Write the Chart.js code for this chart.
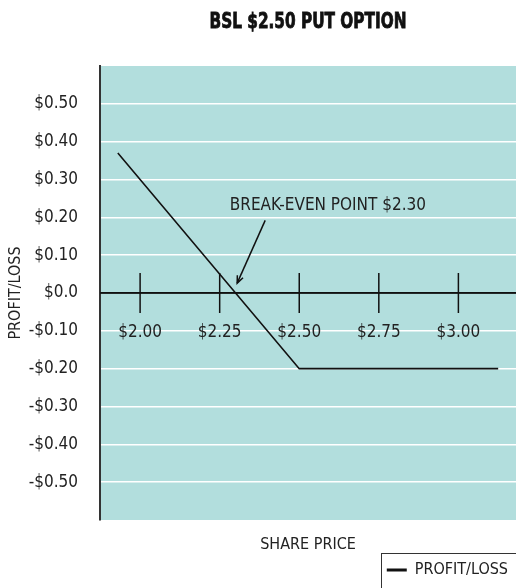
<!DOCTYPE html>
<html>
<head>
<meta charset="utf-8">
<script src="https://cdn.jsdelivr.net/npm/chart.js@4/dist/chart.umd.min.js"></script>
<style>
    body { margin: 0; background: #fff; }
    #wrap { width: 516px; height: 588px; position: relative; }
</style>
</head>
<body>
<div id="wrap"><canvas id="chart"></canvas></div>
<script>
// chart data
const sharePrice = [1.93, 2.50, 3.125];
const profitLoss = [0.37, -0.20, -0.20];
const xTicks = [2.00, 2.25, 2.50, 2.75, 3.00];
const xTickLabels = ['$2.00', '$2.25', '$2.50', '$2.75', '$3.00'];
const yTicks = [0.5, 0.4, 0.3, 0.2, 0.1, 0, -0.1, -0.2, -0.3, -0.4, -0.5];
const yTickLabels = ['$0.50', '$0.40', '$0.30', '$0.20', '$0.10', '$0.0', '-$0.10', '-$0.20', '-$0.30', '-$0.40', '-$0.50'];
const breakEvenText = 'BREAK-EVEN POINT $2.30';
const breakEvenLabelAt = [2.59, 0.232];
const breakEvenArrowFrom = [2.393, 0.192];
const breakEvenArrowTo = [2.305, 0.026];

const FONT = "'DejaVu Sans Condensed', 'DejaVu Sans', sans-serif";
const TEAL = '#b2dedd';

// teal background, zero line, tick marks, labels, title, annotation, legend box
const decorPlugin = {
    id: 'decor',
    beforeDraw(chart) {
        const a = chart.chartArea;
        const ctx = chart.ctx;
        ctx.save();
        ctx.fillStyle = TEAL;
        ctx.fillRect(a.left, a.top, a.right - a.left, a.bottom - a.top);
        ctx.restore();
    },
    afterDatasetsDraw(chart) {
        const ctx = chart.ctx;
        const a = chart.chartArea;
        const xs = chart.scales.x;
        const ys = chart.scales.y;
        const y0 = ys.getPixelForValue(0);
        ctx.save();
        ctx.strokeStyle = '#111';
        ctx.lineWidth = 1.5;
        ctx.beginPath();
        ctx.moveTo(a.left, y0);
        ctx.lineTo(a.right, y0);
        ctx.stroke();
        ctx.font = '17px ' + FONT;
        ctx.fillStyle = '#222';
        ctx.textAlign = 'center';
        ctx.textBaseline = 'middle';
        xTicks.forEach((v, i) => {
            const px = xs.getPixelForValue(v);
            ctx.beginPath();
            ctx.moveTo(px, y0 - 20);
            ctx.lineTo(px, y0 + 20);
            ctx.stroke();
            ctx.fillText(xTickLabels[i], px, y0 + 40);
        });

        // break-even note
        ctx.fillText(breakEvenText, xs.getPixelForValue(breakEvenLabelAt[0]), ys.getPixelForValue(breakEvenLabelAt[1]));
        const x1 = xs.getPixelForValue(breakEvenArrowFrom[0]), y1 = ys.getPixelForValue(breakEvenArrowFrom[1]);
        const x2 = xs.getPixelForValue(breakEvenArrowTo[0]), y2 = ys.getPixelForValue(breakEvenArrowTo[1]);
        ctx.lineWidth = 1.5;
        ctx.beginPath();
        ctx.moveTo(x1, y1);
        ctx.lineTo(x2, y2);
        ctx.stroke();
        const ang = Math.atan2(y2 - y1, x2 - x1);
        ctx.beginPath();
        ctx.moveTo(x2 - 8 * Math.cos(ang - 0.4), y2 - 8 * Math.sin(ang - 0.4));
        ctx.lineTo(x2, y2);
        ctx.lineTo(x2 - 8 * Math.cos(ang + 0.4), y2 - 8 * Math.sin(ang + 0.4));
        ctx.stroke();
        ctx.restore();
    },
    afterDraw(chart) {
        const ctx = chart.ctx;
        const a = chart.chartArea;
        ctx.save();
        // title, squeezed to look like the condensed heading
        ctx.font = 'bold 22px ' + FONT;
        ctx.fillStyle = '#111';
        ctx.strokeStyle = '#111';
        ctx.lineWidth = 0.8;
        ctx.textBaseline = 'middle';
        const title = 'BSL $2.50 PUT OPTION';
        const w = ctx.measureText(title).width;
        ctx.translate((a.left + a.right) / 2, 22);
        ctx.scale(197 / w, 1);
        ctx.textAlign = 'center';
        ctx.fillText(title, 0, 0);
        ctx.strokeText(title, 0, 0);
        ctx.restore();

        // legend frame
        const hb = chart.legend.legendHitBoxes[0];
        if (hb) {
            ctx.save();
            ctx.strokeStyle = '#333';
            ctx.lineWidth = 1;
            ctx.strokeRect(Math.round(hb.left) - 5.5, hb.top + hb.height / 2 - 16.5, 200, 60);
            ctx.restore();
        }
    }
};

new Chart(document.getElementById('chart'), {
    type: 'line',
    data: {
        datasets: [{
            label: 'PROFIT/LOSS',
            data: sharePrice.map((x, i) => ({ x: x, y: profitLoss[i] })),
            borderColor: '#111',
            backgroundColor: '#111',
            borderWidth: 1.6,
            pointRadius: 0,
            tension: 0
        }]
    },
    options: {
        responsive: true,
        maintainAspectRatio: false,
        animation: false,
        layout: { padding: { top: 66, left: 0, right: 0, bottom: 0 } },
        scales: {
            x: {
                type: 'linear',
                min: 1.874,
                max: 3.181,
                grid: { display: false },
                border: { display: false },
                ticks: { display: false },
                title: {
                    display: true,
                    text: 'SHARE PRICE',
                    color: '#222',
                    font: { family: FONT, size: 16 },
                    padding: { top: 8, bottom: 0 }
                },
                afterFit(scale) { scale.height = 34; }
            },
            y: {
                min: -0.6,
                max: 0.6,
                afterBuildTicks(scale) {
                    scale.ticks = yTicks.map(v => ({ value: v }));
                },
                grid: {
                    color: ctx => ctx.tick && ctx.tick.value === 0 ? '#111' : '#fff',
                    lineWidth: 1.5,
                    drawTicks: false
                },
                border: { display: true, color: '#333', width: 2 },
                ticks: {
                    padding: 22,
                    color: '#222',
                    font: { family: FONT, size: 17 },
                    callback: (v, i) => yTickLabels[i]
                },
                title: {
                    display: true,
                    text: 'PROFIT/LOSS',
                    color: '#222',
                    font: { family: FONT, size: 16 },
                    padding: { top: 6, bottom: 0 }
                },
                afterFit(scale) { scale.width = 100; }
            }
        },
        plugins: {
            title: { display: false },
            tooltip: { enabled: false },
            legend: {
                display: true,
                position: 'bottom',
                align: 'end',
                labels: {
                    color: '#222',
                    font: { family: FONT, size: 16 },
                    usePointStyle: true,
                    pointStyle: 'line',
                    pointStyleWidth: 20,
                    padding: 8,
                    generateLabels(chart) {
                        const items = Chart.defaults.plugins.legend.labels.generateLabels(chart);
                        items.forEach(it => { it.lineWidth = 3; it.pointStyle = 'line'; });
                        return items;
                    }
                }
            }
        }
    },
    plugins: [decorPlugin]
});
</script>
</body>
</html>
